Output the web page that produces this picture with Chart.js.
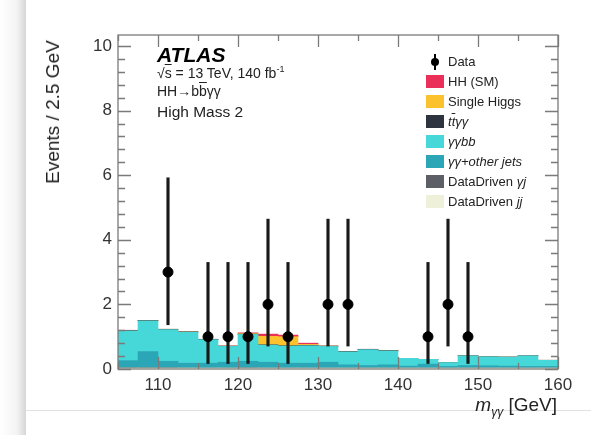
<!DOCTYPE html>
<html>
<head>
<meta charset="utf-8">
<script src="https://cdn.jsdelivr.net/npm/chart.js@4.4.0/dist/chart.umd.min.js"></script>
<style>
  body { margin: 0; background: #fff; font-family: "Liberation Sans", Arial, Helvetica, sans-serif; }
  #wrap { position: relative; width: 591px; height: 435px; overflow: hidden; }
  #shadow { position: absolute; left: 0; top: 0; width: 26px; height: 435px;
    background: linear-gradient(to right, #fff 0%, #f3f3f3 65%, #d6d6d6 100%); }
  #bottomline { position: absolute; left: 26px; top: 410px; width: 565px; height: 1px; background: #e2e2e2; }
  canvas { position: absolute; left: 0; top: 0; }
  .t { position: absolute; white-space: nowrap; color: #222; }
  .leg { position: absolute; left: 448px; font-size: 13px; color: #222; white-space: nowrap; line-height: 14px; }
  .box { position: absolute; left: 426px; width: 18px; height: 13px; }
  .ol { text-decoration: overline; }
</style>
</head>
<body>
<div id="wrap">
  <div id="shadow"></div>
  <div id="bottomline"></div>
  <canvas id="chart" width="591" height="435"></canvas>

  <div class="t" style="left:53px; top:112px; font-size:19px; transform:translate(-50%,-50%) rotate(-90deg);">Events / 2.5 GeV</div>
  <div class="t" style="right:34px; top:394px; font-size:19px;"><i>m</i><sub style="font-size:12px;"><i>γγ</i></sub> [GeV]</div>

  <div class="t" style="left:157px; top:43px; font-size:21px; font-weight:bold; font-style:italic; color:#000;">ATLAS</div>
  <div class="t" style="left:157px; top:64px; font-size:14px;">√<span class="ol">s</span> = 13 TeV, 140 fb<sup style="font-size:9px;">-1</sup></div>
  <div class="t" style="left:157px; top:83px; font-size:14px;">HH→b<span class="ol">b</span>γγ</div>
  <div class="t" style="left:157px; top:103px; font-size:15.5px;">High Mass 2</div>

  <div style="position:absolute; left:434px; top:54px; width:2px; height:16px; background:#000;"></div>
  <div style="position:absolute; left:431px; top:58px; width:8px; height:8px; border-radius:50%; background:#000;"></div>
  <div class="leg" style="top:55px;">Data</div>
  <div class="box" style="top:75px; background:#ea3058;"></div><div class="leg" style="top:75px;">HH (SM)</div>
  <div class="box" style="top:95px; background:#fbc22d;"></div><div class="leg" style="top:95px;">Single Higgs</div>
  <div class="box" style="top:115px; background:#2e3340;"></div><div class="leg" style="top:115px;"><i>t<span class="ol">t</span>γγ</i></div>
  <div class="box" style="top:135px; background:#46d8d8;"></div><div class="leg" style="top:135px;"><i>γγbb</i></div>
  <div class="box" style="top:155px; background:#2aa6b6;"></div><div class="leg" style="top:155px;"><i>γγ+other jets</i></div>
  <div class="box" style="top:175px; background:#5c5f66;"></div><div class="leg" style="top:175px;">DataDriven <i>γj</i></div>
  <div class="box" style="top:195px; background:#eef0da;"></div><div class="leg" style="top:195px;">DataDriven <i>jj</i></div>
</div>

<script>
// bin centres (2.5 GeV bins from 105 to 160)
var binCenters = [106.25, 108.75, 111.25, 113.75, 116.25, 118.75, 121.25, 123.75, 126.25, 128.75, 131.25,
                  133.75, 136.25, 138.75, 141.25, 143.75, 146.25, 148.75, 151.25, 153.75, 156.25, 158.75];

// stacked backgrounds, bottom to top
var ddJJ   = [0.03, 0.03, 0.03, 0.03, 0.03, 0.03, 0.03, 0.03, 0.03, 0.03, 0.03, 0.03, 0.03, 0.03, 0.03, 0.03, 0.03, 0.03, 0.03, 0.03, 0.03, 0.03];
var ddGJ   = [0.01, 0.01, 0.01, 0, 0, 0, 0.01, 0, 0, 0, 0, 0, 0, 0, 0, 0, 0, 0, 0, 0, 0, 0];
var yyJets = [0.22, 0.50, 0.20, 0.15, 0.15, 0.18, 0.20, 0.18, 0.15, 0.15, 0.18, 0.10, 0.08, 0.10, 0.06, 0.12, 0.05, 0.08, 0.07, 0.06, 0.05, 0.05];
var yybb   = [0.92, 0.95, 0.98, 0.96, 0.73, 0.49, 0.83, 0.53, 0.53, 0.54, 0.49, 0.40, 0.49, 0.43, 0.24, 0.15, 0.12, 0.30, 0.28, 0.28, 0.33, 0.19];
var ttyy   = [0.01, 0.01, 0.01, 0.01, 0.01, 0.01, 0.01, 0.01, 0.01, 0.01, 0.01, 0.01, 0.01, 0.01, 0, 0, 0, 0, 0, 0, 0, 0];
var singleH = [0, 0, 0, 0, 0, 0, 0.02, 0.26, 0.28, 0.03, 0, 0, 0, 0, 0, 0, 0, 0, 0, 0, 0, 0];
var hhSM   = [0.01, 0, 0, 0, 0, 0, 0.02, 0.07, 0.05, 0.04, 0, 0, 0, 0, 0, 0, 0, 0, 0, 0, 0, 0];

// data points and their error bars (lower, upper)
var dataCounts = [null, null, 3, null, 1, 1, 1, 2, 1, null, 2, 2, null, null, null, 1, 2, 1, null, null, null, null];
var errLow  = [null, null, 1.37, null, 0.17, 0.17, 0.17, 0.71, 0.17, null, 0.71, 0.71, null, null, null, 0.17, 0.71, 0.17, null, null, null, null];
var errHigh = [null, null, 5.92, null, 3.30, 3.30, 3.30, 4.64, 3.30, null, 4.64, 4.64, null, null, null, 3.30, 4.64, 3.30, null, null, null, null];

var xTicks = [110, 120, 130, 140, 150, 160];
var yTicks = [0, 2, 4, 6, 8, 10];

var errBars = [];
for (var i = 0; i < dataCounts.length; i++) {
  errBars.push(dataCounts[i] == null ? null : [errLow[i], errHigh[i]]);
}

function mc(label, values, color) {
  return { type: 'bar', label: label, data: values, backgroundColor: color, borderWidth: 0,
           stack: 'mc', order: 2, barPercentage: 1, categoryPercentage: 1, xAxisID: 'x' };
}

// frame and inward ticks on all four sides, ROOT style
var frameTicks = {
  id: 'frameTicks',
  afterDraw: function(chart) {
    var ctx = chart.ctx, a = chart.chartArea;
    var xs = chart.scales.xlin, ys = chart.scales.y;
    ctx.save();
    ctx.strokeStyle = '#7a7a7a';
    ctx.lineWidth = 1.3;
    ctx.strokeRect(a.left, a.top, a.right - a.left, a.bottom - a.top);
    ctx.beginPath();
    for (var v = 0; v <= 10.3; v += 0.4) {
      var major = Math.abs(v / 2 - Math.round(v / 2)) < 0.01;
      var len = major ? 13 : 7;
      var py = Math.round(ys.getPixelForValue(v)) + 0.5;
      ctx.moveTo(a.left, py); ctx.lineTo(a.left + len, py);
      ctx.moveTo(a.right, py); ctx.lineTo(a.right - len, py);
    }
    for (var g = 105; g <= 160; g += 5) {
      var maj = g % 10 == 0;
      var l2 = maj ? 12 : 6;
      var px = Math.round(xs.getPixelForValue(g)) + 0.5;
      ctx.moveTo(px, a.bottom); ctx.lineTo(px, a.bottom - l2);
      ctx.moveTo(px, a.top); ctx.lineTo(px, a.top + l2);
    }
    ctx.stroke();
    ctx.restore();
  }
};

new Chart(document.getElementById('chart'), {
  type: 'bar',
  data: {
    labels: binCenters,
    datasets: [
      { type: 'line', label: 'Data', data: dataCounts, showLine: false, pointRadius: 5, pointHoverRadius: 5,
        pointBackgroundColor: '#000', pointBorderColor: '#000', stack: 'data', order: 0, xAxisID: 'x' },
      { type: 'bar', label: 'err', data: errBars, backgroundColor: '#1a1a1a', barThickness: 2.5, grouped: false,
        stack: 'err', order: 1, xAxisID: 'x' },
      mc('DataDriven jj', ddJJ, '#eef0da'),
      mc('DataDriven γj', ddGJ, '#5c5f66'),
      mc('γγ+other jets', yyJets, '#2aa6b6'),
      mc('γγbb', yybb, '#46d8d8'),
      mc('ttγγ', ttyy, '#2e3340'),
      mc('Single Higgs', singleH, '#fbc22d'),
      mc('HH (SM)', hhSM, '#ea3058')
    ]
  },
  options: {
    responsive: false,
    devicePixelRatio: 1,
    animation: false,
    layout: { padding: { left: 0, top: 35, right: 33, bottom: 0 } },
    plugins: { legend: { display: false }, tooltip: { enabled: false } },
    scales: {
      x: { type: 'category', display: false, stacked: true, offset: true, grid: { display: false } },
      xlin: {
        type: 'linear', position: 'bottom', min: 105, max: 160, offset: false,
        grid: { display: false, drawTicks: false, offset: false }, border: { display: false },
        afterBuildTicks: function(s) { s.ticks = xTicks.map(function(v) { return { value: v }; }); },
        afterFit: function(s) { s.height = 66; },
        ticks: { color: '#333', padding: 6, maxRotation: 0, autoSkip: false, font: { family: 'Liberation Sans', size: 17 } }
      },
      y: {
        stacked: true, min: 0, max: 10.34,
        grid: { display: false, drawTicks: false }, border: { display: false },
        afterBuildTicks: function(s) { s.ticks = yTicks.map(function(v) { return { value: v }; }); },
        afterFit: function(s) { s.width = 118; },
        ticks: { color: '#333', padding: 6, font: { family: 'Liberation Sans', size: 17 } }
      }
    }
  },
  plugins: [frameTicks]
});
</script>
</body>
</html>
